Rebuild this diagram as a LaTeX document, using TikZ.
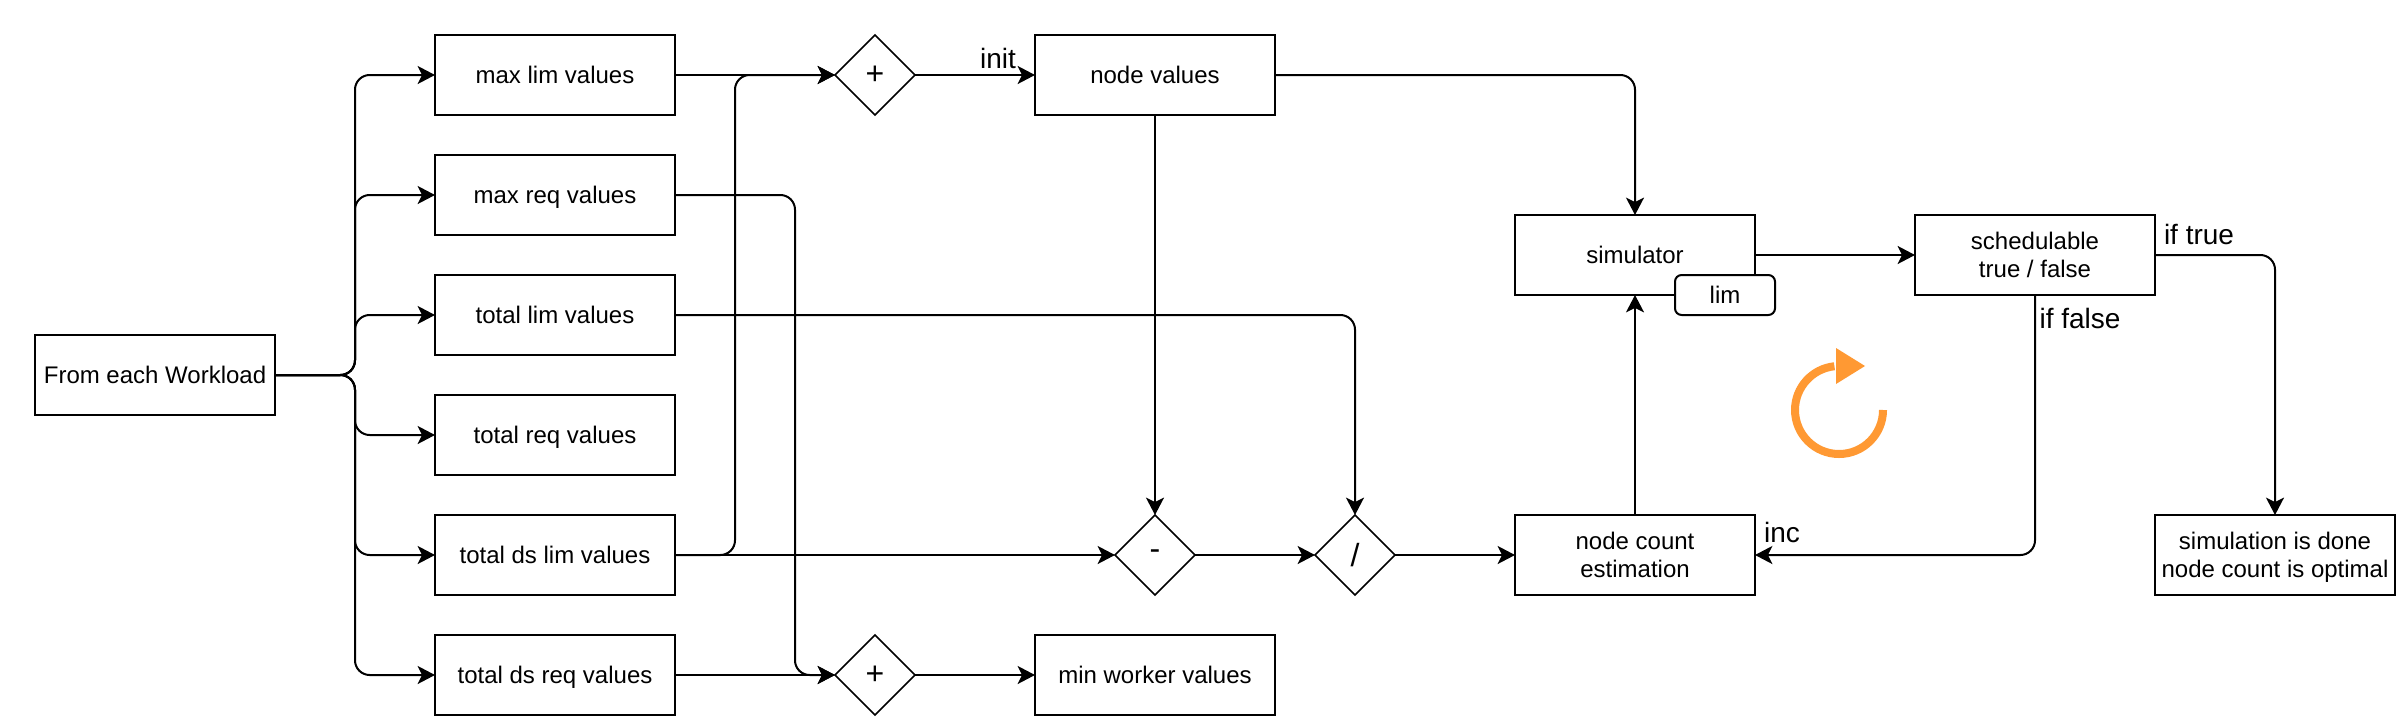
\documentclass[tikz,border=0pt]{standalone}
\usepackage{fontspec}
\setmainfont{Liberation Sans}
\usetikzlibrary{arrows.meta,shapes.geometric}
\definecolor{loopcol}{HTML}{FF9933}
\newcommand{\bt}[1]{\vphantom{Xp}\smash{\raisebox{-2.2pt}{#1}}}
\tikzset{
  box/.style={draw,line width=1.5pt,fill=white,minimum width=180pt,minimum height=60pt,inner sep=0pt,outer sep=0pt,align=center,font=\fontsize{18pt}{21pt}\selectfont},
  op/.style={draw,line width=1.2pt,fill=white,diamond,aspect=1,minimum width=60pt,minimum height=60pt,inner sep=0pt,outer sep=0pt,font=\fontsize{24pt}{26pt}\selectfont},
  limbox/.style={draw,line width=1.5pt,fill=white,rounded corners=5pt,minimum width=75pt,minimum height=30pt,inner sep=0pt,outer sep=0pt,font=\fontsize{18pt}{21pt}\selectfont},
  lab/.style={inner sep=0pt,font=\fontsize{21pt}{24pt}\selectfont},
  conn/.style={line width=1.5pt,rounded corners=11pt,-{Stealth[length=13pt,width=13.5pt,inset=3.3pt]}},
}
\begin{document}
\begin{tikzpicture}[x=0.75pt,y=-0.75pt]
\useasboundingbox (0,0) rectangle (2402,722);
\fill[white] (0,0) rectangle (2402,722);
% nodes
\node[box] (from) at (155,375) {\bt{From each Workload}};
\node[box] (r1) at (555,75) {\bt{max lim values}};
\node[box] (r2) at (555,195) {\bt{max req values}};
\node[box] (r3) at (555,315) {\bt{total lim values}};
\node[box] (r4) at (555,435) {\bt{total req values}};
\node[box] (r5) at (555,555) {\bt{total ds lim values}};
\node[box] (r6) at (555,675) {\bt{total ds req values}};
\node[op] (plusa) at (875,75) {+};
\node[op] (plusb) at (875,675) {+};
\node[box] (nodeval) at (1155,75) {\bt{node values}};
\node[box] (minw) at (1155,675) {\bt{min worker values}};
\node[op] (minus) at (1155,555) {-};
\node[op] (divide) at (1355,555) {/};
\node[box] (sim) at (1635,255) {\bt{simulator}};
\node[box] (est) at (1635,555) {node count\\estimation};
\node[box] (sched) at (2035,255) {schedulable\\true / false};
\node[box] (done) at (2275,555) {simulation is done\\\raisebox{0pt}[\height][0pt]{node count is optimal}};
\node[limbox] (lim) at (1725,295) {\bt{lim}};
% turning points
\coordinate (trunk) at (355,375);
\coordinate (upa) at (735,555);
\coordinate (downb) at (795,195);
% connectors
\draw[conn] (from.east) -- (trunk) |- (r1.west);
\draw[conn] (from.east) -- (trunk) |- (r2.west);
\draw[conn] (from.east) -- (trunk) |- (r3.west);
\draw[conn] (from.east) -- (trunk) |- (r4.west);
\draw[conn] (from.east) -- (trunk) |- (r5.west);
\draw[conn] (from.east) -- (trunk) |- (r6.west);
\draw[conn] (r1.east) -- (plusa.west);
\draw[conn] (r5.east) -- (upa) |- (plusa.west);
\draw[conn] (r2.east) -- (downb) |- (plusb.west);
\draw[conn] (r6.east) -- (plusb.west);
\draw[conn] (r5.east) -- (minus.west);
\draw[conn] (r3.east) -| (divide.north);
\draw[conn] (plusa.east) -- (nodeval.west);
\draw[conn] (plusb.east) -- (minw.west);
\draw[conn] (nodeval.south) -- (minus.north);
\draw[conn] (nodeval.east) -| (sim.north);
\draw[conn] (minus.east) -- (divide.west);
\draw[conn] (divide.east) -- (est.west);
\draw[conn] (est.north) -- (sim.south);
\draw[conn] (sim.east) -- (sched.west);
\draw[conn] (sched.south) |- (est.east);
\draw[conn] (sched.east) -| (done.north);
% labels
\node[lab] (linit) at (998,58) {init};
\node[lab] (linc) at (1782,532) {inc};
\node[lab] (ltrue) at (2199,234) {if true};
\node[lab] (lfalse) at (2080,318) {if false};
% loop mark
\draw[loopcol,line width=6pt] (1883,410) arc[start angle=0,end angle=-264,radius=33pt];
\fill[loopcol] (1836,348) -- (1865,366) -- (1836,384) -- cycle;
\end{tikzpicture}
\end{document}
